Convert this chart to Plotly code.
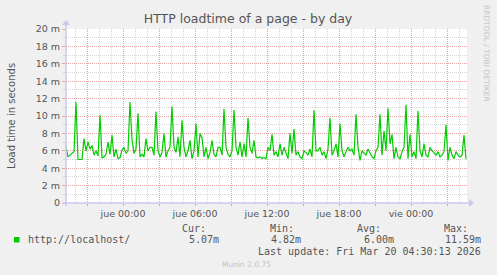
import pandas as pd
import plotly.graph_objects as go

# ---- data (load time in milliseconds-units "m", 10-minute samples) ----
start_time = "2026-03-18 19:15"
sample_minutes = 10
load_m = [
    6.5, 5.3, 5.5, 5.7, 5.9, 11.6, 5.0, 5.0, 5.0, 7.4,
    6.0, 7.0, 6.2, 6.6, 5.5, 6.0, 5.4, 10.1, 5.2, 5.3,
    5.6, 7.0, 5.6, 7.8, 5.3, 6.2, 5.1, 5.2, 6.1, 6.4,
    5.7, 6.0, 11.6, 7.3, 5.7, 6.2, 10.3, 5.3, 5.6, 5.3,
    7.4, 6.0, 6.4, 6.4, 5.5, 10.5, 6.0, 5.3, 5.8, 8.0,
    5.3, 6.0, 6.4, 11.1, 6.4, 5.8, 7.6, 5.3, 9.5, 6.4,
    5.3, 6.0, 7.2, 5.1, 6.0, 9.1, 5.3, 8.0, 7.5, 5.3,
    6.4, 5.1, 5.8, 7.2, 5.6, 5.3, 6.4, 6.4, 5.5, 10.8,
    6.4, 5.6, 5.3, 6.0, 10.7, 6.4, 5.5, 7.0, 5.3, 6.8,
    5.3, 9.8, 6.4, 5.7, 7.2, 5.3, 5.2, 5.3, 5.1, 5.2,
    5.1, 6.4, 6.0, 7.9, 5.5, 5.9, 5.3, 6.8, 5.5, 6.4,
    5.7, 5.1, 8.0, 5.7, 8.5, 5.5, 5.9, 5.3, 5.1, 6.0,
    5.8, 5.5, 6.2, 5.3, 10.7, 6.0, 6.0, 6.4, 5.5, 5.9,
    5.1, 6.2, 9.8, 5.5, 6.0, 6.8, 5.3, 9.1, 6.0, 5.3,
    5.9, 6.4, 6.0, 6.2, 5.5, 10.2, 6.4, 4.9, 6.0, 5.7,
    5.5, 6.2, 5.8, 5.3, 5.1, 6.0, 6.4, 10.2, 5.5, 8.3,
    6.0, 10.9, 6.8, 7.9, 5.1, 6.4, 5.3, 5.1, 5.9, 6.4,
    11.3, 5.1, 7.9, 5.3, 5.9, 5.1, 10.6, 6.0, 5.3, 6.8,
    5.5, 5.3, 6.4, 6.0, 5.8, 5.5, 5.9, 5.3, 5.5, 5.9,
    9.0, 4.9, 6.4, 5.5, 5.1, 5.9, 5.5, 5.3, 5.5, 7.8,
    5.07,
]
x_range = ["2026-03-18 19:15", "2026-03-20 04:40"]
major_ticks = ["2026-03-18 21:00", "2026-03-19 00:00", "2026-03-19 03:00",
               "2026-03-19 06:00", "2026-03-19 09:00", "2026-03-19 12:00",
               "2026-03-19 15:00", "2026-03-19 18:00", "2026-03-19 21:00",
               "2026-03-20 00:00", "2026-03-20 03:00"]
major_labels = ["", "jue 00:00", "", "jue 06:00", "", "jue 12:00",
                "", "jue 18:00", "", "vie 00:00", ""]
y_ticks = [0, 2, 4, 6, 8, 10, 12, 14, 16, 18, 20]
y_labels = ["0", "2 m", "4 m", "6 m", "8 m", "10 m", "12 m", "14 m", "16 m", "18 m", "20 m"]
series_name = "http://localhost/"
stats_heads = ["Cur:", "Min:", "Avg:", "Max:"]
stats_vals = ["5.07m", "4.82m", "6.00m", "11.59m"]

times = pd.date_range(start_time, periods=len(load_m), freq=f"{sample_minutes}min")

# ---- layout geometry (pixels) ----
W, H = 497, 275
L, R, T, B = 66, 467, 29, 203
PW, PH = R - L, B - T


def px(x):
    return (x - L) / PW


def py(y):
    return (B - y) / PH


GREEN = "#00cc00"
TXT = "#555555"
MONO = "DejaVu Sans Mono"
SANS = "DejaVu Sans"

fig = go.Figure()
fig.add_trace(go.Scatter(x=times, y=load_m, mode="lines",
                         line=dict(color=GREEN, width=1.2),
                         hoverinfo="skip", showlegend=False))

RED_GRID = "#e6a3a3"
GRAY_GRID = "#d4d4d4"

fig.update_layout(
    width=W, height=H,
    margin=dict(l=L, r=W - R, t=T, b=H - B, pad=0),
    paper_bgcolor="#f0f0f0",
    plot_bgcolor="#ffffff",
    title=dict(text="HTTP loadtime of a page - by day",
               font=dict(family=SANS, size=12.5, color=TXT),
               x=248 / W, xanchor="center", y=1 - 19 / H, yanchor="middle"),
    xaxis=dict(type="date", range=x_range,
               tickmode="array", tickvals=major_ticks, ticktext=major_labels,
               showgrid=True, gridcolor=RED_GRID, griddash="1px,1px", gridwidth=1,
               ticks="outside", ticklen=2, tickcolor=RED_GRID,
               tickfont=dict(family=SANS, size=9.5, color=TXT),
               minor=dict(dtick=3600000, tick0="2026-03-18 00:00", showgrid=True,
                          gridcolor=GRAY_GRID, griddash="1px,1px", ticks=""),
               showline=False, zeroline=False, fixedrange=True),
    yaxis=dict(range=[0, 20],
               tickmode="array", tickvals=y_ticks, ticktext=y_labels,
               showgrid=True, gridcolor=RED_GRID, griddash="1px,1px", gridwidth=1,
               ticks="outside", ticklen=3, tickcolor=RED_GRID,
               tickfont=dict(family=SANS, size=9.5, color=TXT),
               minor=dict(dtick=1, tick0=0, showgrid=True,
                          gridcolor=GRAY_GRID, griddash="1px,1px",
                          ticks="outside", ticklen=2, tickcolor=GRAY_GRID),
               showline=False, zeroline=False, fixedrange=True),
)

AXIS = "#c8c8f0"
shapes = [
    # x axis line + arrow
    dict(type="line", xref="paper", yref="paper", x0=px(63), x1=px(470), y0=0, y1=0,
         line=dict(color=AXIS, width=1.5)),
    dict(type="path", xref="paper", yref="paper",
         path=f"M {px(469)} {py(199)} L {px(474)} {py(203)} L {px(469)} {py(207)} Z",
         fillcolor=AXIS, line=dict(color=AXIS, width=0)),
    # y axis line + arrow
    dict(type="line", xref="paper", yref="paper", x0=0, x1=0, y0=py(206), y1=py(24),
         line=dict(color=AXIS, width=1.5)),
    dict(type="path", xref="paper", yref="paper",
         path=f"M {px(62)} {py(25)} L {px(66)} {py(20)} L {px(70)} {py(25)} Z",
         fillcolor=AXIS, line=dict(color=AXIS, width=0)),
    # legend swatch
    dict(type="rect", xref="paper", yref="paper", x0=px(14), x1=px(19.5),
         y0=py(242.5), y1=py(237), fillcolor=GREEN, line=dict(width=0)),
]
fig.update_layout(shapes=shapes)

ann = []


def text(s, x, y, xanchor="left", size=10, color=TXT, family=MONO, angle=0):
    ann.append(dict(text=s, x=px(x), y=py(y), xref="paper", yref="paper",
                    xanchor=xanchor, yanchor="middle", showarrow=False,
                    textangle=angle, font=dict(family=family, size=size, color=color)))


text("Load time in seconds", 11, 116, xanchor="center", size=10, family=SANS, angle=-90)
text("RRDTOOL / TOBI OETIKER", 487, 53, xanchor="center", size=7.5,
     family=SANS, color="#c4c4c4", angle=90)
text(series_name, 26, 239.5)
head_right = [208, 296, 383, 470]
val_right = [221, 303, 396, 483]
for h, v, hr, vr in zip(stats_heads, stats_vals, head_right, val_right):
    text(h, hr, 228, xanchor="right")
    text(v, vr, 239.5, xanchor="right")
text("Last update: Fri Mar 20 04:30:13 2026", 483, 251, xanchor="right")
text("Munin 2.0.75", 273, 264, xanchor="right", size=7.5, family=SANS, color="#c4c4c4")
fig.update_layout(annotations=ann)

fig.write_html("out.html")
